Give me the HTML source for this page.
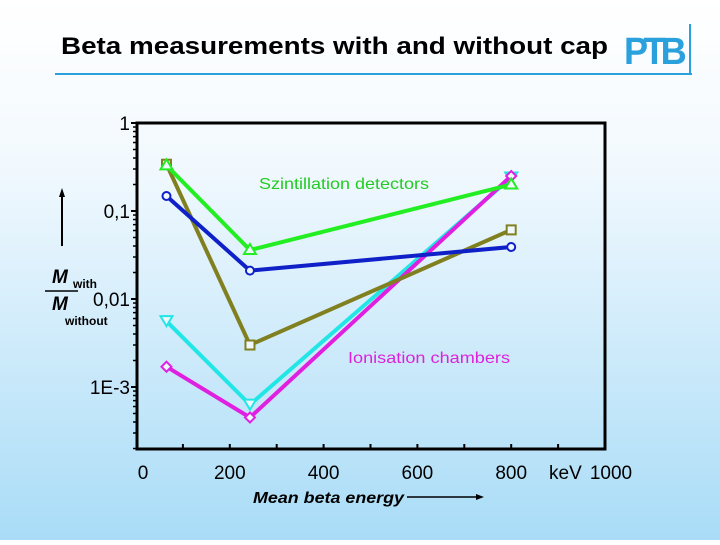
<!DOCTYPE html>
<html><head><meta charset="utf-8"><style>
html,body{margin:0;padding:0}
body{width:720px;height:540px;overflow:hidden;background:linear-gradient(#ffffff 0%,#f2f9fe 30%,#a9dcf7 100%);font-family:"Liberation Sans",sans-serif}
</style></head><body>
<svg width="720" height="540" xmlns="http://www.w3.org/2000/svg" id="svg">
<text x="61" y="54" font-size="24" font-weight="bold" font-family="Liberation Sans, sans-serif" fill="#000" textLength="547" lengthAdjust="spacingAndGlyphs">Beta measurements with and without cap</text>
<line x1="55" y1="74" x2="692" y2="74" stroke="#2aa0dc" stroke-width="2"/>
<line x1="690" y1="24" x2="690" y2="75" stroke="#2aa0dc" stroke-width="2"/>
<text x="624" y="64" font-size="38" font-weight="bold" fill="#2aa0dc" letter-spacing="-5" textLength="58" lengthAdjust="spacingAndGlyphs">PTB</text>
<g id="axes"></g>
<g id="series"></g>
<text x="259" y="189" font-size="16" fill="#22cc22" textLength="170" lengthAdjust="spacingAndGlyphs">Szintillation detectors</text>
<text x="348" y="363" font-size="16" fill="#dd22dd" textLength="162" lengthAdjust="spacingAndGlyphs">Ionisation chambers</text>
<text x="253" y="503" font-size="16" font-weight="bold" font-style="italic" textLength="151" lengthAdjust="spacingAndGlyphs">Mean beta energy</text>
<line x1="407" y1="497" x2="478" y2="497" stroke="#000" stroke-width="1.5"/>
<polygon points="484,497 476,494 476,500" fill="#000"/>
<text x="549" y="479" font-size="19">keV</text>
<line x1="62" y1="246" x2="62" y2="195" stroke="#000" stroke-width="2"/>
<polygon points="62,188 59,197 65,197" fill="#000"/>
<g>
<text x="52" y="283" font-size="19" font-weight="bold" font-style="italic">M</text>
<text x="73" y="288" font-size="12" font-weight="bold">with</text>
<line x1="45" y1="291" x2="78" y2="291" stroke="#000" stroke-width="1.5"/>
<text x="52" y="310" font-size="19" font-weight="bold" font-style="italic">M</text>
<text x="65" y="325" font-size="12" font-weight="bold">without</text>
</g>
</svg>
<script>
const categories=[65,243,800];
const greenVals=[0.33,0.036,0.2];
const oliveVals=[0.34,0.003,0.061];
const blueVals=[0.148,0.021,0.039];
const cyanVals=[0.0056,0.00063,0.24];
const magentaVals=[0.0017,0.00045,0.25];
const xTicks=[0,200,400,600,800,1000];
const yTicks=[1,0.1,0.01,0.001];
const yTickLabels=["1","0,1","0,01","1E-3"];
const NS="http://www.w3.org/2000/svg";
const X0=136,X1=605,Y1=123,DEC=88,YB=449;
function xs(v){return X0+(X1-X0)*v/1000;}
function ys(v){return Y1-Math.log10(v)*DEC;}
function mk(t,a,p){const e=document.createElementNS(NS,t);for(const k in a)e.setAttribute(k,a[k]);p.appendChild(e);return e;}
const ax=document.getElementById('axes');
const fr=mk('rect',{x:137,y:Y1,width:X1-137,height:YB-Y1,fill:'none',stroke:'#000','stroke-width':3},ax);


for(let d=0;d>=-4;d--){for(let m=1;m<10;m++){const v=m*Math.pow(10,d);const y=ys(v);if(y>YB||y<Y1-0.5)continue;
const t=mk('line',{x1:m==1?131:133,x2:137,y1:y,y2:y,stroke:'#000','stroke-width':m==1?2:1.5},ax);

}}
yTicks.forEach((v,i)=>{const t=mk('text',{x:130,y:ys(v)+7,'font-size':19,'text-anchor':'end'},ax);t.textContent=yTickLabels[i];

});
for(let v=100;v<1000;v+=100){const t=mk('line',{x1:xs(v),x2:xs(v),y1:YB,y2:YB-5,stroke:'#000','stroke-width':2},ax);

}
xTicks.forEach(v=>{const t=mk('text',{x:v==0?143:(v==1000?xs(v)+6:xs(v)),y:479,'font-size':19,'text-anchor':'middle'},ax);t.textContent=v;

});
const sg=document.getElementById('series');
function series(vals,color,shape,name){
const g=mk('g',{},sg);


mk('polyline',{points:vals.map((v,i)=>xs(categories[i])+','+ys(v)).join(' '),fill:'none',stroke:color,'stroke-width':4},g);
vals.forEach((v,i)=>{const x=xs(categories[i]),y=ys(v);let e;const s=5;
if(shape=='circle')e=mk('circle',{cx:x,cy:y,r:4},g);
else if(shape=='square')e=mk('rect',{x:x-4.5,y:y-4.5,width:9,height:9},g);
else if(shape=='tri')e=mk('polygon',{points:`${x},${y-6} ${x-6},${y+4} ${x+6},${y+4}`},g);
else if(shape=='dtri')e=mk('polygon',{points:`${x},${y+5} ${x-6},${y-5} ${x+6},${y-5}`},g);
else e=mk('polygon',{points:`${x},${y-s} ${x+s},${y} ${x},${y+s} ${x-s},${y}`},g);
e.setAttribute('fill','#eef8fd');e.setAttribute('stroke',color);e.setAttribute('stroke-width',2);

});
}
series(cyanVals,'#22e6e6','dtri','cyan-series');
series(magentaVals,'#e020e0','diamond','magenta-series');
series(oliveVals,'#808020','square','olive-series');
series(blueVals,'#1020c8','circle','blue-series');
series(greenVals,'#22ee22','tri','green-series');
</script>
</body></html>
